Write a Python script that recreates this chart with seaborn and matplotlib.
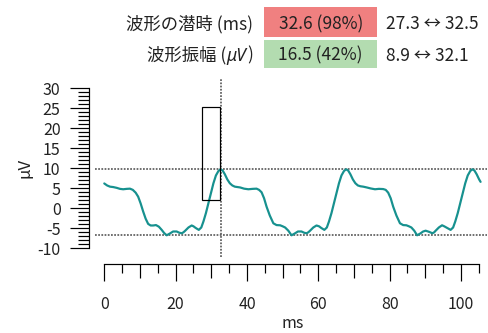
import matplotlib
matplotlib.use("Agg")
import matplotlib.pyplot as plt
import seaborn as sns
import pandas as pd
from matplotlib.patches import Rectangle
from matplotlib.ticker import FixedLocator, FixedFormatter

# ---- waveform samples (ms, µV) ----
time_ms = [
    0.0, 0.8, 1.6, 2.5, 3.5, 4.4, 5.3, 6.3, 7.2, 8.0, 8.8, 9.5, 10.2, 10.9, 11.6,
    12.3, 13.0, 13.7, 14.5, 15.3, 16.1, 16.8, 17.5, 18.4, 19.3, 20.3, 21.0, 21.7,
    22.2, 22.7, 23.6, 24.5, 25.0, 25.6, 26.5, 27.2, 27.8, 28.5, 29.2, 29.9, 30.6,
    31.3, 32.0, 32.6, 33.2, 33.8, 34.5, 35.2, 35.9, 36.6, 37.4, 38.1,
    39.2, 40.4, 41.6, 42.7, 43.4, 44.1, 44.8, 45.5, 46.4, 47.4, 48.3, 49.3, 50.0,
    50.7, 51.6, 52.5, 53.4, 54.3, 55.3, 56.0, 56.7, 57.2, 57.7, 58.6, 59.5, 60.2,
    60.8, 61.7, 62.4, 63.0, 63.7, 64.4, 65.1, 65.8, 66.5, 67.2, 67.8, 68.4, 69.0,
    69.7, 70.4, 71.1, 71.8, 72.6, 73.6, 74.7, 75.9, 77.0, 78.2,
    78.9, 79.6, 80.3, 81.0, 81.9, 82.9, 83.8, 84.7, 85.4, 86.1, 86.9, 87.7, 88.6,
    89.4, 90.1, 91.1, 92.0, 92.5, 92.8, 93.8, 94.7, 95.3, 95.9, 97.1, 97.8, 98.4,
    99.1, 99.8, 100.5, 101.2, 101.9, 102.6, 103.2, 103.8, 104.4, 105.1, 105.5,
]
amp_uv = [
    6.2, 5.7, 5.4, 5.3, 5.1, 4.85, 4.75, 4.85, 4.9, 4.6, 3.9, 2.9, 1.2, -0.8, -2.6,
    -3.9, -4.3, -4.3, -4.2, -4.6, -5.4, -6.2, -6.75, -6.3, -5.8, -5.8, -6.1, -6.25,
    -6.0, -5.6, -4.8, -4.3, -4.5, -4.9, -5.4, -4.8, -3.3, -1.2, 1.25, 3.8, 6.25,
    8.2, 9.3, 9.75, 9.4, 8.5, 7.2, 6.25, 5.7, 5.4, 5.3, 5.2,
    4.9, 4.75, 4.85, 4.9, 4.6, 4.0, 2.5, 0.4, -1.8, -3.75, -4.2, -4.25, -4.5,
    -4.8, -5.6, -6.75, -6.3, -5.8, -5.8, -6.1, -6.25, -6.0, -5.6, -4.8, -4.3, -4.5,
    -4.9, -5.4, -4.8, -3.3, -1.2, 1.25, 3.8, 6.25, 8.2, 9.3, 9.75, 9.4, 8.5,
    7.2, 6.25, 5.7, 5.5, 5.4, 5.2, 4.95, 4.75, 4.85, 4.8,
    4.6, 3.9, 2.5, 0.4, -1.8, -3.75, -4.2, -4.25, -4.5, -4.8, -5.6, -6.75, -6.3,
    -5.8, -5.6, -5.9, -6.25, -6.0, -5.7, -4.8, -4.25, -4.5, -4.8, -5.4, -4.8, -3.3,
    -1.2, 1.25, 3.8, 6.25, 8.2, 9.3, 9.75, 9.4, 8.5, 7.2, 6.6,
]

# ---- measurements ----
latency_ms = 32.6
latency_pct = 98
latency_range = (27.3, 32.5)
peak_uv = 9.75
trough_uv = -6.75
amplitude_uv = 16.5
amplitude_pct = 42
amplitude_range = (8.9, 32.1)

# ---- axis ticks ----
x_major = [0, 10, 20, 30, 40, 50, 60, 70, 80, 90, 100]
x_labels = ["0", "", "20", "", "40", "", "60", "", "80", "", "100"]
x_minor = [5, 15, 25, 35, 45, 55, 65, 75, 85, 95, 105]
y_major = [-10, -5, 0, 5, 10, 15, 20, 25, 30]
y_labels = ["-10", "-5", "0", "5", "10", "15", "20", "25", "30"]
y_minor = [v for v in range(-10, 31) if v % 5 != 0]

sns.set_theme(style="ticks")
plt.rcParams["font.family"] = ["Noto Sans CJK JP", "DejaVu Sans"]
plt.rcParams["axes.unicode_minus"] = False

W, H = 488, 333
PT = 72 / 100  # points per pixel at dpi 100
TXT = "#222222"


def fx(px):
    return px / W


def fy(py):
    return 1 - py / H


fig = plt.figure(figsize=(W / 100, H / 100), dpi=100)
ax = fig.add_axes([fx(95), fy(256.7), fx(487) - fx(95), fy(79) - fy(256.7)])

df = pd.DataFrame({"ms": time_ms, "uV": amp_uv})
sns.lineplot(data=df, x="ms", y="uV", ax=ax, color="#17918f", lw=2.2 * PT)

ax.set_xlim(-2.6, 107.3)
ax.set_ylim(-12.1, 32.3)

dot_kw = dict(color="#505050", lw=1.6 * PT, ls=(0, (1.1, 0.9)), zorder=1)
ax.axhline(peak_uv, **dot_kw)
ax.axhline(trough_uv, **dot_kw)
ax.axvline(latency_ms, **dot_kw)

ax.add_patch(Rectangle(
    (latency_range[0], trough_uv + amplitude_range[0]),
    latency_range[1] - latency_range[0],
    amplitude_range[1] - amplitude_range[0],
    fill=False, ec="black", lw=1.2 * PT, zorder=3))

# offset spines
for s in ("top", "right"):
    ax.spines[s].set_visible(False)
ax.spines["left"].set_position(("data", -4.2))
ax.spines["left"].set_bounds(-10, 30)
ax.spines["bottom"].set_position(("data", -13.9))
ax.spines["bottom"].set_bounds(0, 105)
for s in ("left", "bottom"):
    ax.spines[s].set_linewidth(1.2 * PT)
    ax.spines[s].set_color("black")

ax.xaxis.set_major_locator(FixedLocator(x_major))
ax.xaxis.set_major_formatter(FixedFormatter(x_labels))
ax.xaxis.set_minor_locator(FixedLocator(x_minor))
ax.yaxis.set_major_locator(FixedLocator(y_major))
ax.yaxis.set_major_formatter(FixedFormatter(y_labels))
ax.yaxis.set_minor_locator(FixedLocator(y_minor))

ax.tick_params(axis="x", which="major", length=17 * PT, width=1.2 * PT,
               pad=11, labelsize=11.5, labelcolor=TXT, color="black")
ax.tick_params(axis="x", which="minor", length=9 * PT, width=1.2 * PT, color="black")
ax.tick_params(axis="y", which="major", length=19 * PT, width=1.2 * PT,
               pad=7, labelsize=11.5, labelcolor=TXT, color="black")
ax.tick_params(axis="y", which="minor", length=11 * PT, width=1.2 * PT, color="black")

# medium-length ticks at the unlabelled tens
for tick, loc in zip(ax.xaxis.get_major_ticks(), x_major):
    if loc % 20 != 0:
        tick.tick1line.set_markersize(14 * PT)

ax.set_xlabel("ms", fontsize=11.5, color=TXT, va="baseline")
ax.xaxis.set_label_coords((293 - 95) / 392, (256.7 - 328.3) / 177.7)
ax.set_ylabel("μV", fontsize=12, color=TXT, ha="center", va="center")
ax.yaxis.set_label_coords((25 - 95) / 392, (256.7 - 168) / 177.7)

# ---- measurement summary above the plot ----
HS = 12.5
fig.add_artist(Rectangle((fx(264), fy(36.7)), fx(377) - fx(264), fy(7.3) - fy(36.7),
                         transform=fig.transFigure, fc="#f08080", ec="none"))
fig.add_artist(Rectangle((fx(264), fy(68.3)), fx(377) - fx(264), fy(40) - fy(68.3),
                         transform=fig.transFigure, fc="#b3dcb0", ec="none"))

fig.text(fx(253), fy(29.3), "波形の潜時 (ms)", ha="right", va="baseline",
         fontsize=HS, color=TXT)
fig.text(fx(320.7), fy(29.3), f"{latency_ms} ({latency_pct}%)", ha="center",
         va="baseline", fontsize=HS, color=TXT)
fig.text(fx(386), fy(29.3), f"{latency_range[0]} ↔ {latency_range[1]}",
         ha="left", va="baseline", fontsize=HS, color=TXT)

fig.text(fx(320.7), fy(60.7), f"{amplitude_uv} ({amplitude_pct}%)", ha="center",
         va="baseline", fontsize=HS, color=TXT)
fig.text(fx(386), fy(60.7), f"{amplitude_range[0]} ↔ {amplitude_range[1]}",
         ha="left", va="baseline", fontsize=HS, color=TXT)

# amplitude label: italic unit set between upright parts, laid out right to left
renderer = fig.canvas.get_renderer()
x_right = 253
t_close = fig.text(fx(x_right), fy(60.7), ")", ha="right", va="baseline",
                   fontsize=HS, color=TXT)
x_right -= t_close.get_window_extent(renderer).width
t_unit = fig.text(fx(x_right - 0.5), fy(60.7), "μV", ha="right", va="baseline",
                  fontsize=HS, color=TXT, family=["Noto Sans", "DejaVu Sans"],
                  style="italic")
x_right -= t_unit.get_window_extent(renderer).width + 0.5
fig.text(fx(x_right), fy(60.7), "波形振幅 (", ha="right", va="baseline",
         fontsize=HS, color=TXT)

fig.savefig("out.png", dpi=100)
